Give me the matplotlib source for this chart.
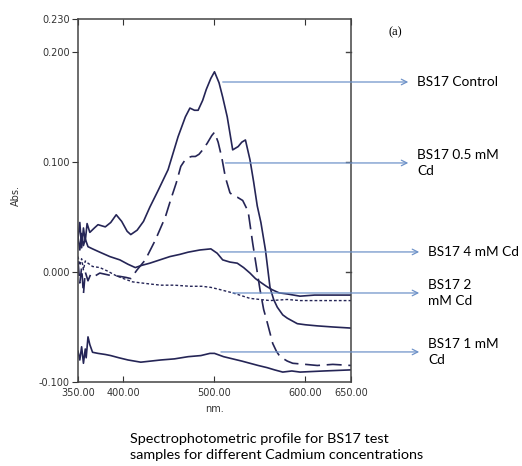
import numpy as np
import matplotlib.pyplot as plt

# wavelength (nm) / absorbance
wl_control = [350, 352, 354, 356, 358, 360, 363, 368, 372, 380, 386, 392, 398, 404, 408, 415, 422,
              429, 438, 449, 460, 468, 473, 478, 482, 487, 491, 496, 500, 505, 509, 514, 520, 526,
              530, 534, 539, 543, 547, 551, 556, 561, 565, 569, 575, 580, 591, 600, 613, 630, 650]
abs_control = [0.030, 0.045, 0.022, 0.040, 0.028, 0.044, 0.036, 0.040, 0.043, 0.041, 0.045, 0.052,
               0.046, 0.037, 0.034, 0.038, 0.046, 0.059, 0.074, 0.093, 0.123, 0.141, 0.149, 0.147,
               0.147, 0.156, 0.166, 0.176, 0.182, 0.172, 0.159, 0.141, 0.111, 0.114, 0.118, 0.120,
               0.102, 0.082, 0.060, 0.045, 0.020, -0.014, -0.025, -0.032, -0.039, -0.042, -0.047,
               -0.048, -0.049, -0.050, -0.051]

wl_05 = [350, 352, 354, 356, 358, 361, 364, 368, 374, 385, 396, 403, 408, 415, 424, 435, 446, 452,
         458, 463, 467, 471, 475, 479, 483, 487, 492, 497, 500, 504, 508, 512, 517, 521, 525, 531,
         537, 542, 546, 550, 554, 558, 564, 568, 572, 580, 586, 600, 613, 630, 650]
abs_05 = [0.010, -0.010, 0.004, -0.020, 0.000, -0.008, -0.002, -0.004, -0.001, -0.003, -0.004,
          -0.005, -0.006, 0.002, 0.011, 0.029, 0.050, 0.066, 0.081, 0.096, 0.101, 0.104, 0.105,
          0.105, 0.107, 0.111, 0.117, 0.124, 0.127, 0.118, 0.104, 0.086, 0.072, 0.069, 0.068, 0.065,
          0.055, 0.026, 0.005, -0.016, -0.034, -0.046, -0.065, -0.072, -0.077, -0.081, -0.083,
          -0.084, -0.085, -0.084, -0.085]

wl_4 = [350, 352, 354, 356, 358, 361, 366, 374, 385, 396, 405, 413, 420, 429, 440, 451, 462, 471,
        484, 496, 503, 509, 517, 525, 532, 539, 545, 550, 557, 563, 571, 580, 594, 610, 630, 650]
abs_4 = [0.032, 0.020, 0.035, 0.024, 0.030, 0.023, 0.021, 0.018, 0.014, 0.011, 0.007, 0.004, 0.006,
         0.008, 0.011, 0.014, 0.016, 0.018, 0.020, 0.021, 0.017, 0.011, 0.009, 0.008, 0.004, -0.001,
         -0.006, -0.009, -0.013, -0.016, -0.019, -0.020, -0.022, -0.021, -0.021, -0.021]

wl_2 = [350, 352, 354, 356, 358, 361, 366, 374, 382, 391, 400, 410, 420, 430, 441, 456, 473, 486,
        496, 506, 520, 539, 550, 561, 580, 594, 620, 650]
abs_2 = [0.014, 0.006, 0.012, 0.002, 0.010, 0.008, 0.005, 0.004, 0.001, -0.003, -0.006, -0.009,
         -0.010, -0.011, -0.012, -0.012, -0.013, -0.013, -0.014, -0.016, -0.019, -0.024, -0.025,
         -0.026, -0.025, -0.026, -0.026, -0.026]

wl_1 = [350, 352, 354, 356, 358, 359, 361, 363, 366, 372, 380, 386, 395, 405, 419, 430, 441, 456,
        471, 485, 495, 500, 510, 520, 530, 539, 548, 558, 566, 575, 585, 594, 620, 650]
abs_1 = [-0.072, -0.080, -0.068, -0.083, -0.070, -0.078, -0.059, -0.066, -0.073, -0.074, -0.075,
         -0.076, -0.078, -0.080, -0.082, -0.081, -0.080, -0.079, -0.077, -0.076, -0.074, -0.074,
         -0.077, -0.079, -0.081, -0.083, -0.085, -0.087, -0.089, -0.091, -0.090, -0.091, -0.090,
         -0.089]

labels = ['BS17 Control', 'BS17 0.5 mM\nCd', 'BS17 4 mM Cd', 'BS17 2\nmM Cd', 'BS17 1 mM\nCd']
# arrow start (x, y) and arrow end x / text x, all in data units
arrow_start = [(506, 0.1727), (509, 0.0991), (503, 0.0182), (517, -0.0191), (504, -0.0727)]
arrow_end_x = [716, 716, 728, 728, 728]
text_x = [723, 723, 735, 735, 735]

line_col = '#252556'
arrow_col = '#6f93c9'

fig = plt.figure(figsize=(5.22, 4.66), dpi=100)
ax = fig.add_axes([0.1494, 0.1803, 0.523, 0.779])

ax.plot(wl_control, abs_control, color=line_col, lw=1.2)
ax.plot(wl_05, abs_05, color=line_col, lw=1.2, dashes=(9, 4))
ax.plot(wl_4, abs_4, color=line_col, lw=1.2)
ax.plot(wl_2, abs_2, color=line_col, lw=1.0, dashes=(2, 1.5))
ax.plot(wl_1, abs_1, color=line_col, lw=1.2)

ax.set_xlim(350, 650)
ax.set_ylim(-0.100, 0.230)
ax.set_xticks([350, 400, 500, 600, 650])
ax.set_xticklabels(['350.00', '400.00', '500.00', '600.00', '650.00'])
ax.set_yticks([-0.1, 0.0, 0.1, 0.2, 0.23])
ax.set_yticklabels(['-0.100', '0.000', '0.100', '0.200', '0.230'])
ax.tick_params(axis='x', direction='in', top=True, length=4, labelsize=7, colors='#333333', pad=4)
ax.tick_params(axis='y', direction='out', length=4, labelsize=7, colors='#333333', pad=2)
for s in ax.spines.values():
    s.set_color('#444444')
    s.set_linewidth(1.1)

# inward ticks on the right edge
for yv in [0.2, 0.1, 0.0]:
    ax.plot([644, 650], [yv, yv], color='#444444', lw=1.0, clip_on=False)

ax.set_xlabel('nm.', fontsize=7, color='#333333')
ax.xaxis.set_label_coords(0.5, -0.06)
ax.set_ylabel('Abs.', fontsize=7, color='#333333')
ax.yaxis.set_label_coords(-0.21, 0.515)

for lab, st, ex, tx in zip(labels, arrow_start, arrow_end_x, text_x):
    ax.annotate('', xy=(ex, st[1]), xytext=st,
                arrowprops=dict(arrowstyle='->', color=arrow_col, lw=0.9),
                annotation_clip=False)
    ax.text(tx, st[1], lab, fontsize=9.8, family='Lato', va='center', ha='left',
            linespacing=1.4, clip_on=False)

fig.text(395 / 522, 1 - 32 / 466, '(a)', fontsize=9, family='Liberation Serif', ha='center', va='center')
fig.text(130 / 522, 1 - 447 / 466,
         'Spectrophotometric profile for BS17 test\nsamples for different Cadmium concentrations',
         fontsize=10.4, family='Lato', ha='left', va='center', linespacing=1.35)

fig.savefig('out.png', dpi=100)
